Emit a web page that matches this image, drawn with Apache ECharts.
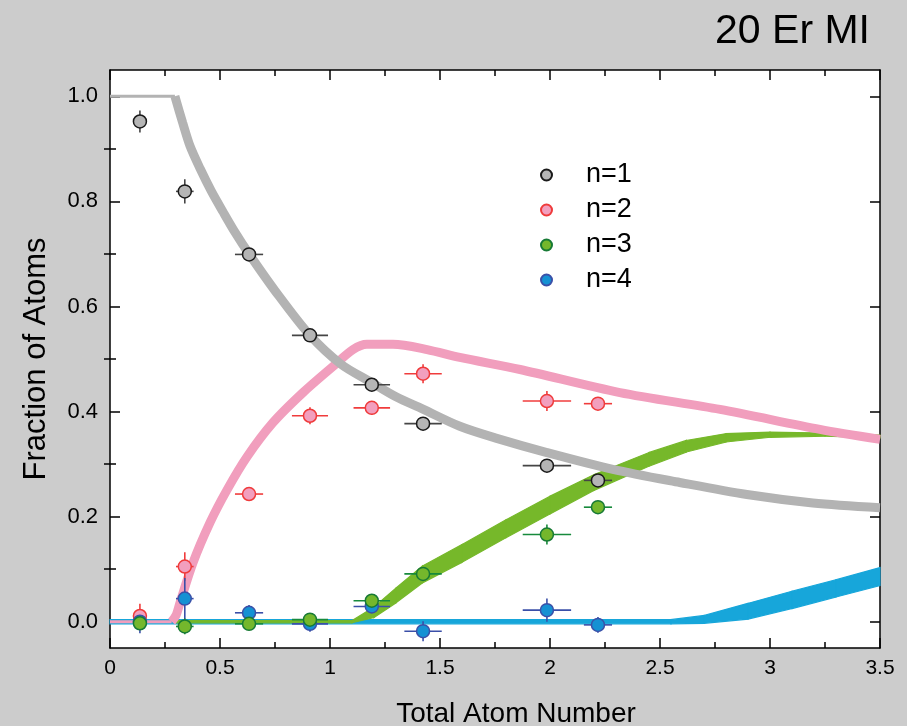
<!DOCTYPE html>
<html>
<head>
<meta charset="utf-8">
<script src="https://cdn.jsdelivr.net/npm/echarts@6/dist/echarts.min.js"></script>
<style>
  html, body { margin: 0; padding: 0; background: #cccccc; }
  #chart { width: 907px; height: 726px; }
</style>
</head>
<body>
<div id="chart"></div>
<script>
// measured points (same total atom number bins for every n)
const atomNumber = [0.136, 0.34, 0.632, 0.909, 1.19, 1.423, 1.986, 2.218];
const atomNumberErr = [0.02, 0.04, 0.064, 0.082, 0.083, 0.085, 0.11, 0.064];

const n1Frac = [0.952, 0.819, 0.699, 0.545, 0.451, 0.377, 0.297, 0.269];
const n1Err = [0.021, 0.023, 0.008, 0.008, 0.008, 0.008, 0.008, 0.008];
const n2Frac = [0.011, 0.105, 0.243, 0.392, 0.407, 0.472, 0.42, 0.415];
const n2Err = [0.023, 0.027, 0.008, 0.016, 0.013, 0.018, 0.019, 0.01];
const n3Frac = [-0.003, -0.009, -0.004, 0.004, 0.04, 0.091, 0.166, 0.218];
const n3Err = [0.008, 0.015, 0.008, 0.01, 0.008, 0.013, 0.019, 0.01];
const n4Frac = [0.0, 0.044, 0.017, -0.004, 0.029, -0.018, 0.022, -0.006];
const n4Err = [0.022, 0.039, 0.015, 0.015, 0.008, 0.019, 0.022, 0.015];

// model curves
const n1FlatX = [0, 0.295];
const n1FlatY = [1.0, 1.0];
const n1CurveX = [0.295, 0.33, 0.364, 0.41, 0.46, 0.514, 0.57, 0.632, 0.75, 0.909, 1.05, 1.19, 1.3, 1.42, 1.59, 1.75, 1.986, 2.286, 2.59, 2.895, 3.195, 3.5];
const n1CurveY = [1.0, 0.95, 0.905, 0.862, 0.82, 0.78, 0.74, 0.70, 0.63, 0.545, 0.49, 0.455, 0.428, 0.405, 0.372, 0.35, 0.322, 0.29, 0.265, 0.242, 0.226, 0.217];

const n2FlatX = [0, 0.28];
const n2FlatY = [0, 0];
const n2CurveX = [0.28, 0.30, 0.318, 0.377, 0.455, 0.532, 0.623, 0.741, 0.877, 1.014, 1.105, 1.168, 1.286, 1.441, 1.59, 1.864, 2.318, 2.773, 3.227, 3.5];
const n2CurveY = [0, 0.012, 0.036, 0.112, 0.189, 0.251, 0.314, 0.379, 0.436, 0.486, 0.518, 0.528, 0.528, 0.518, 0.503, 0.48, 0.436, 0.404, 0.366, 0.347];

const n3BandX = [0.3, 1.1, 1.2, 1.3, 1.42, 1.6, 1.8, 2.0, 2.2, 2.45, 2.62, 2.8, 3.0, 3.25, 3.5];
const n3BandLow = [-0.002, -0.002, 0.008, 0.036, 0.074, 0.113, 0.16, 0.205, 0.25, 0.296, 0.323, 0.342, 0.351, 0.353, 0.35];
const n3BandHigh = [0.002, 0.002, 0.028, 0.064, 0.106, 0.147, 0.194, 0.239, 0.28, 0.322, 0.345, 0.358, 0.361, 0.359, 0.355];

const n4BandX = [0, 2.55, 2.7, 2.9, 3.1, 3.3, 3.5];
const n4BandLow = [-0.004, -0.004, -0.003, 0.005, 0.025, 0.047, 0.069];
const n4BandHigh = [0.004, 0.004, 0.012, 0.035, 0.058, 0.08, 0.103];

const xTicks = [0, 0.5, 1, 1.5, 2, 2.5, 3, 3.5];
const yTicks = [0, 0.2, 0.4, 0.6, 0.8, 1.0];
const yMinorTicks = [0.1, 0.3, 0.5, 0.7, 0.9];
const legendNames = ['n=1', 'n=2', 'n=3', 'n=4'];

const FONT = 'Liberation Sans, Arial, sans-serif';
const chart = echarts.init(document.getElementById('chart'));

function pairs(xs, ys) {
  return xs.map((x, i) => [x, ys[i]]);
}

function errorBars(name, ys, yErr, color) {
  return {
    name: name,
    type: 'custom',
    data: atomNumber.map((x, i) => [x, ys[i], atomNumberErr[i], yErr[i]]),
    encode: { x: 0, y: 1 },
    z: 5,
    silent: true,
    renderItem: function (params, api) {
      const x = api.value(0), y = api.value(1), dx = api.value(2), dy = api.value(3);
      const l = api.coord([x - dx, y]), r = api.coord([x + dx, y]);
      const t = api.coord([x, y + dy]), b = api.coord([x, y - dy]);
      const style = { stroke: color, lineWidth: 1.6 };
      return {
        type: 'group',
        children: [
          { type: 'line', shape: { x1: l[0], y1: l[1], x2: r[0], y2: r[1] }, style: style },
          { type: 'line', shape: { x1: t[0], y1: t[1], x2: b[0], y2: b[1] }, style: style }
        ]
      };
    }
  };
}

function points(name, ys, fill, border) {
  return {
    name: name,
    type: 'scatter',
    data: pairs(atomNumber, ys),
    symbol: 'circle',
    symbolSize: 13,
    z: 6,
    itemStyle: { color: fill, borderColor: border, borderWidth: 1.5, opacity: 1 }
  };
}

function curve(name, xs, ys, color, width) {
  return {
    name: name,
    type: 'line',
    data: pairs(xs, ys),
    showSymbol: false,
    smooth: 0.3,
    z: 3,
    silent: true,
    lineStyle: { color: color, width: width, cap: 'butt' }
  };
}

// shaded uncertainty band: one quad per pair of neighbouring samples
function band(name, xs, low, high, color) {
  const segs = [];
  for (let i = 0; i < xs.length - 1; i++) {
    segs.push([xs[i], low[i], high[i], xs[i + 1], low[i + 1], high[i + 1]]);
  }
  return {
    name: name,
    type: 'custom',
    data: segs,
    encode: { x: [0, 3], y: [1, 2, 4, 5] },
    z: 2,
    silent: true,
    renderItem: function (params, api) {
      const p = [
        api.coord([api.value(0), api.value(1)]),
        api.coord([api.value(3), api.value(4)]),
        api.coord([api.value(3), api.value(5)]),
        api.coord([api.value(0), api.value(2)])
      ];
      return {
        type: 'polygon',
        shape: { points: p },
        style: { fill: color, stroke: color, lineWidth: 1.2 }
      };
    }
  };
}

const yBase = { type: 'value', min: -0.05, max: 1.05, splitLine: { show: false } };
const xBase = { type: 'value', min: 0, max: 3.5, interval: 0.5, splitLine: { show: false } };
const axisLine = { show: true, onZero: false, lineStyle: { color: '#000', width: 1.5 } };
const tickLine = { color: '#000', width: 1.5 };

const option = {
  backgroundColor: '#cccccc',
  animation: false,
  title: {
    text: '20 Er MI',
    right: 32,
    top: 6,
    textStyle: { fontFamily: FONT, fontSize: 41, fontWeight: 'normal', color: '#000' }
  },
  legend: {
    data: legendNames,
    orient: 'vertical',
    left: 535,
    top: 155,
    icon: 'circle',
    itemWidth: 11,
    itemHeight: 11,
    itemGap: 5,
    textStyle: { fontFamily: FONT, fontSize: 27, color: '#000', lineHeight: 30, padding: [0, 0, 0, 29] }
  },
  grid: {
    left: 110, right: 27, top: 70, bottom: 78,
    outerBoundsMode: 'none',
    show: true, backgroundColor: '#ffffff', borderWidth: 0
  },
  xAxis: [
    Object.assign({}, xBase, {
      position: 'bottom',
      name: 'Total Atom Number',
      nameLocation: 'middle',
      nameGap: 52,
      nameTextStyle: { fontFamily: FONT, fontSize: 28, color: '#000', padding: [0, 0, 0, 42] },
      axisLine: axisLine,
      axisTick: { inside: true, length: 10, lineStyle: tickLine },
      minorTick: { show: true, splitNumber: 2, length: 6, lineStyle: tickLine },
      axisLabel: { customValues: xTicks, margin: 10, fontFamily: FONT, fontSize: 21, color: '#000' }
    }),
    Object.assign({}, xBase, {
      position: 'top',
      axisLine: axisLine,
      axisTick: { inside: true, length: 10, lineStyle: tickLine },
      minorTick: { show: true, splitNumber: 2, length: 6, lineStyle: tickLine },
      axisLabel: { show: false }
    })
  ],
  yAxis: [
    Object.assign({}, yBase, {
      position: 'left',
      name: 'Fraction of Atoms',
      nameLocation: 'middle',
      nameGap: 58,
      nameTextStyle: { fontFamily: FONT, fontSize: 31, color: '#000' },
      axisLine: axisLine,
      axisTick: { inside: true, length: 10, customValues: yTicks, lineStyle: tickLine },
      axisLabel: {
        customValues: yTicks, margin: 12, fontFamily: FONT, fontSize: 22, color: '#000',
        formatter: v => v.toFixed(1)
      }
    }),
    Object.assign({}, yBase, {
      position: 'left',
      axisLine: { show: false },
      axisTick: { inside: true, length: 6, customValues: yMinorTicks, lineStyle: tickLine },
      axisLabel: { show: false }
    }),
    Object.assign({}, yBase, {
      position: 'right',
      axisLine: axisLine,
      axisTick: { inside: true, length: 10, customValues: yTicks, lineStyle: tickLine },
      axisLabel: { show: false }
    }),
    Object.assign({}, yBase, {
      position: 'right',
      axisLine: { show: false },
      axisTick: { inside: true, length: 6, customValues: yMinorTicks, lineStyle: tickLine },
      axisLabel: { show: false }
    })
  ],
  series: [
    band('n4 model', n4BandX, n4BandLow, n4BandHigh, '#17a6da'),
    band('n3 model', n3BandX, n3BandLow, n3BandHigh, '#76b82a'),
    curve('n2 flat', n2FlatX, n2FlatY, '#f19ebd', 3),
    curve('n2 model', n2CurveX, n2CurveY, '#f19ebd', 9),
    curve('n1 flat', n1FlatX, n1FlatY, '#b3b3b3', 3),
    curve('n1 model', n1CurveX, n1CurveY, '#b3b3b3', 9),
    errorBars('err1', n1Frac, n1Err, '#454545'),
    points('n=1', n1Frac, '#b5b5b5', '#1a1a1a'),
    errorBars('err2', n2Frac, n2Err, '#f03c3c'),
    points('n=2', n2Frac, '#f29fbe', '#ef3b3b'),
    errorBars('err4', n4Frac, n4Err, '#3a4fa8'),
    points('n=4', n4Frac, '#1591d3', '#3a50a8'),
    errorBars('err3', n3Frac, n3Err, '#178a3c'),
    points('n=3', n3Frac, '#74b72c', '#177a35')
  ]
};

chart.setOption(option);
</script>
</body>
</html>
